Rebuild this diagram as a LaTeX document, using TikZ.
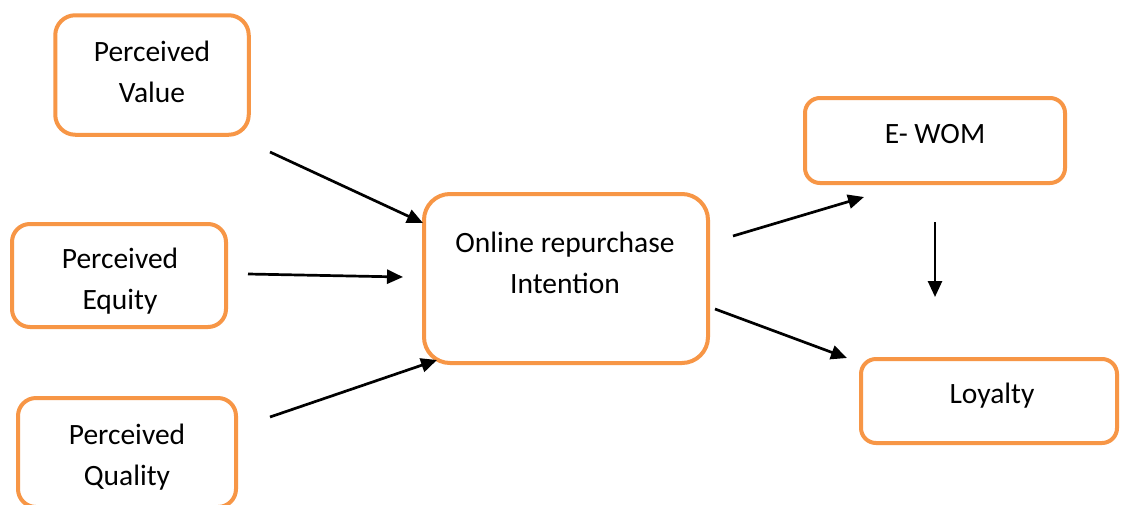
\documentclass[tikz,border=0pt]{standalone}
\usepackage{fontspec}
\setmainfont{Carlito}
\usetikzlibrary{arrows.meta}
\definecolor{boxorange}{HTML}{F79646}
\tikzset{
  box/.style={draw=boxorange, line width=4pt, fill=white, inner sep=0pt, outer sep=0pt},
  txt/.style={align=center, inner sep=0pt, anchor=base, font=\fontsize{29.5}{40.5}\selectfont},
  arr/.style={line width=2.7pt, -{Triangle[length=16pt,width=14pt]}}
}
\begin{document}
\begin{tikzpicture}[x=1pt,y=-1pt]
\useasboundingbox (0,0) rectangle (1121,504);
\clip (0,0) rectangle (1121,504);
\fill[white] (0,0) rectangle (1121,504);
% boxes
\node[box, rounded corners=20pt, minimum width=193.5pt, minimum height=119.5pt] (pv) at (152,75) {};
\node[box, rounded corners=18pt, minimum width=214pt, minimum height=103pt] (pe) at (119,275.5) {};
\node[box, rounded corners=18pt, minimum width=218pt, minimum height=109pt] (pq) at (127,452.5) {};
\node[box, rounded corners=26pt, minimum width=284pt, minimum height=169pt] (oi) at (566,278.5) {};
\node[box, rounded corners=15pt, minimum width=260pt, minimum height=85pt] (ew) at (935,140.5) {};
\node[box, rounded corners=15pt, minimum width=256pt, minimum height=84pt] (ly) at (989,401) {};
% texts (base anchor = baseline of last line)
\node[txt] (pv-t) at (152,102) {Perceived\\Value};
\node[txt] (pe-t) at (120,309) {Perceived\\Equity};
\node[txt] (pq-t) at (127,485) {Perceived\\Quality};
\node[txt] (oi-t) at (565,293) {Online repurchase\\Intention};
\node[txt] (ew-t) at (935,143) {E- WOM};
\node[txt] (ly-t) at (992,403) {Loyalty};
% arrow end points
\coordinate (a1s) at (270,152); \coordinate (a1e) at (423,223);
\coordinate (a2s) at (248,274); \coordinate (a2e) at (403,277);
\coordinate (a3s) at (270,417); \coordinate (a3e) at (437,360);
\coordinate (a4s) at (733,236); \coordinate (a4e) at (864,197);
\coordinate (a5s) at (715,309); \coordinate (a5e) at (847,358);
\coordinate (a6s) at (935,222); \coordinate (a6e) at (935,297);
\draw[arr] (a1s) -- (a1e);
\draw[arr] (a2s) -- (a2e);
\draw[arr] (a3s) -- (a3e);
\draw[arr] (a4s) -- (a4e);
\draw[arr] (a5s) -- (a5e);
\draw[arr] (a6s) -- (a6e);
\end{tikzpicture}
\end{document}
